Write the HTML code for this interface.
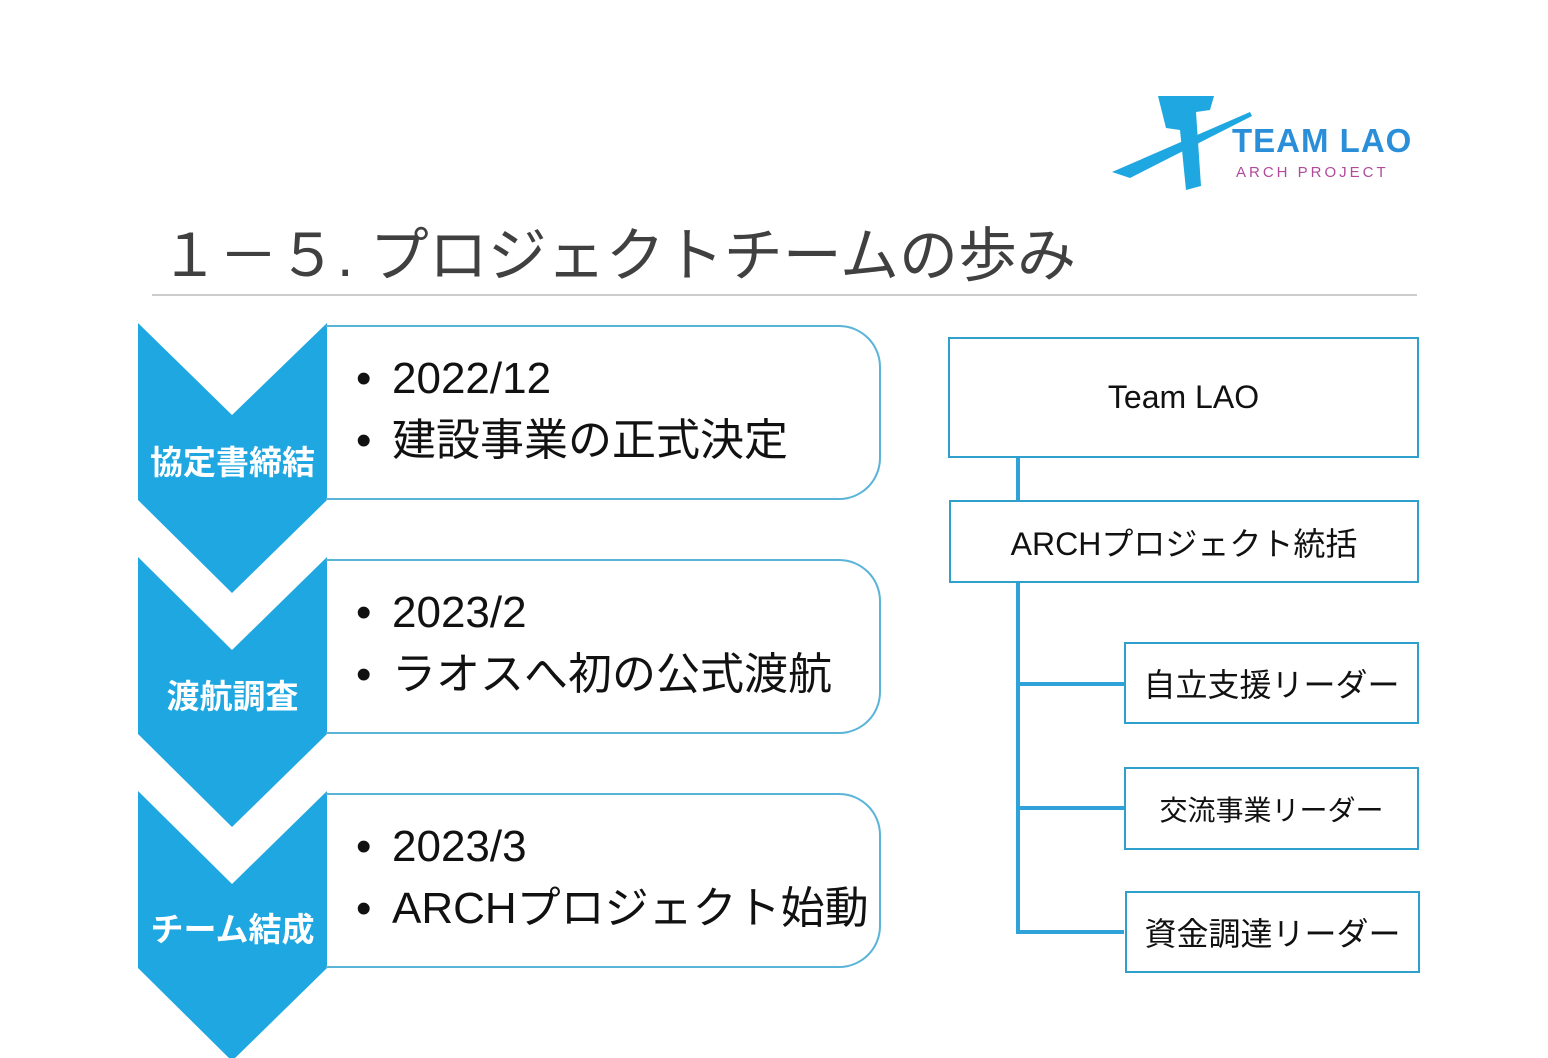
<!DOCTYPE html>
<html><head><meta charset="utf-8"><style>
body{margin:0;width:1548px;height:1058px;background:#fff;position:relative;overflow:hidden;font-family:"Liberation Sans","Noto Sans CJK JP",sans-serif}
.t{position:absolute;white-space:nowrap}
.box{position:absolute;border:2px solid #2f9fcc;box-sizing:border-box;display:flex;align-items:center;justify-content:center;font-size:32px;color:#111}
.card{position:absolute;left:326px;width:555px;height:175px;border:2.5px solid #5ab4d8;border-left:none;border-radius:0 42px 42px 0;box-sizing:border-box;font-size:44px;color:#111;padding:21px 0 0 30px;line-height:62px;white-space:nowrap}
.card div:before{content:"•";display:inline-block;width:36px}
.lab{position:absolute;left:138px;width:189px;text-align:center;color:#fff;font-weight:bold;font-size:33px}
</style></head><body>
<svg width="1548" height="1058" style="position:absolute;left:0;top:0">
<g fill="#1ea7e1">
<polygon points="138,323 232,415 327,323 327,500 232,593 138,500"/>
<polygon points="138,557 232,650 327,557 327,734 232,827 138,734"/>
<polygon points="138,791 232,884 327,791 327,968 232,1061 138,968"/>
<polygon points="1158,96 1214,96 1210,110 1196,112 1201,186 1186,190 1180,130 1166,128"/>
<polygon points="1112,172 1250,112 1252,116 1130,178"/>
</g>
<line x1="152" y1="295" x2="1417" y2="295" stroke="#999" stroke-width="1"/>
<g stroke="#2fa3d9" stroke-width="4" fill="none">
<line x1="1018" y1="457" x2="1018" y2="501"/>
<line x1="1018" y1="582" x2="1018" y2="934"/>
<line x1="1018" y1="684" x2="1124" y2="684"/>
<line x1="1018" y1="808" x2="1124" y2="808"/>
<line x1="1018" y1="932" x2="1124" y2="932"/>
</g>
</svg>
<div class="t" style="left:1232px;top:122px;font-size:33px;color:#2a8fd8;font-weight:bold;letter-spacing:1px">TEAM LAO</div>
<div class="t" style="left:1236px;top:164px;font-size:15px;color:#b04a9a;letter-spacing:3px">ARCH PROJECT</div>
<div class="t" style="left:160px;top:208px;font-size:59px;color:#404040">１－５. プロジェクトチームの歩み</div>
<div class="card" style="top:325px"><div>2022/12</div><div>建設事業の正式決定</div></div>
<div class="card" style="top:559px"><div>2023/2</div><div>ラオスへ初の公式渡航</div></div>
<div class="card" style="top:793px"><div>2023/3</div><div>ARCHプロジェクト始動</div></div>
<div class="lab" style="top:436px">協定書締結</div>
<div class="lab" style="top:670px">渡航調査</div>
<div class="lab" style="top:903px">チーム結成</div>
<div class="box" style="left:948px;top:337px;width:471px;height:121px">Team LAO</div>
<div class="box" style="left:949px;top:500px;width:470px;height:83px">ARCHプロジェクト統括</div>
<div class="box" style="left:1124px;top:642px;width:295px;height:82px">自立支援リーダー</div>
<div class="box" style="left:1124px;top:767px;width:295px;height:83px;font-size:28px">交流事業リーダー</div>
<div class="box" style="left:1125px;top:891px;width:295px;height:82px">資金調達リーダー</div>
</body></html>
